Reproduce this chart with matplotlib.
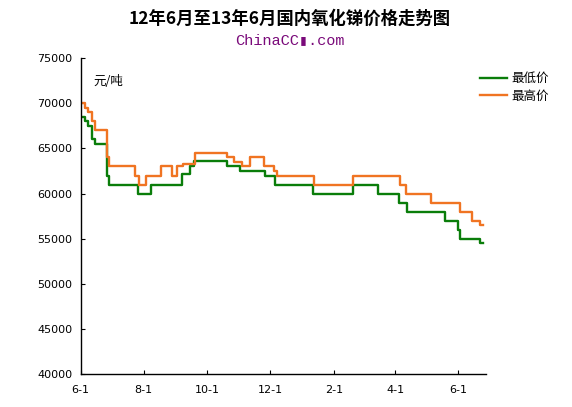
import matplotlib
matplotlib.use('Agg')
import matplotlib.pyplot as plt
import numpy as np

# 最低价 (step changes)
low_dates = ['2012-06-01', '2012-06-05', '2012-06-08', '2012-06-12', '2012-06-15',
             '2012-06-26', '2012-06-28', '2012-07-26', '2012-08-08', '2012-09-07',
             '2012-09-15', '2012-09-19', '2012-10-20', '2012-11-02', '2012-11-26',
             '2012-12-06', '2013-01-12', '2013-02-19', '2013-03-15', '2013-04-05',
             '2013-04-12', '2013-05-19', '2013-06-01', '2013-06-03', '2013-06-22',
             '2013-06-25']
low_vals = [68500, 68000, 67500, 66000, 65500,
            62000, 61000, 60000, 61000, 62200,
            63000, 63600, 63000, 62500, 62000,
            61000, 60000, 61000, 60000, 59000,
            58000, 57000, 56000, 55000, 54500,
            54500]

# 最高价
high_dates = ['2012-06-01', '2012-06-05', '2012-06-08', '2012-06-12', '2012-06-15',
              '2012-06-26', '2012-06-28', '2012-07-24', '2012-07-27', '2012-08-03',
              '2012-08-18', '2012-08-28', '2012-09-02', '2012-09-08', '2012-09-20',
              '2012-10-20', '2012-10-27', '2012-11-04', '2012-11-12', '2012-11-25',
              '2012-12-05', '2012-12-08', '2013-01-13', '2013-02-19', '2013-04-06',
              '2013-04-11', '2013-05-06', '2013-06-03', '2013-06-14', '2013-06-22',
              '2013-06-25']
high_vals = [70000, 69500, 69000, 68000, 67000,
             64000, 63000, 62000, 61000, 62000,
             63000, 62000, 63000, 63300, 64500,
             64000, 63500, 63000, 64000, 63000,
             62500, 62000, 61000, 62000, 61000,
             60000, 59000, 58000, 57000, 56500,
             56500]

tick_dates = ['2012-06-01', '2012-08-01', '2012-10-01', '2012-12-01',
              '2013-02-01', '2013-04-01', '2013-06-01']
tick_labels = ['6-1', '8-1', '10-1', '12-1', '2-1', '4-1', '6-1']
y_ticks = [40000, 45000, 50000, 55000, 60000, 65000, 70000, 75000]

cjk = ['Noto Sans CJK SC', 'DejaVu Sans']
plt.rcParams['font.family'] = cjk

fig = plt.figure(figsize=(5.72, 4.07), dpi=100)
ax = fig.add_axes([0.141, 0.081, 0.709, 0.776])

ld = np.array(low_dates, dtype='datetime64[D]')
hd = np.array(high_dates, dtype='datetime64[D]')
ax.plot(ld, low_vals, drawstyle='steps-post', color='#0a7d0a', lw=1.7, label='最低价')
ax.plot(hd, high_vals, drawstyle='steps-post', color='#f07422', lw=1.7, label='最高价')

ax.set_xlim(np.datetime64('2012-06-01'), np.datetime64('2013-06-28'))
ax.set_ylim(40000, 75000)
ax.set_yticks(y_ticks)
ax.set_yticklabels([str(v) for v in y_ticks], fontsize=8, family='DejaVu Sans')
ax.set_xticks(np.array(tick_dates, dtype='datetime64[D]'))
ax.set_xticklabels(tick_labels, fontsize=8, family='DejaVu Sans')
ax.tick_params(axis='both', direction='in', length=3, width=0.8, pad=6)
ax.tick_params(axis='x', pad=8)

for s in ['top', 'right']:
    ax.spines[s].set_visible(False)
for s in ['left', 'bottom']:
    ax.spines[s].set_linewidth(1.0)

fig.text(0.163, 0.80, '元/吨', fontsize=9, va='center')

fig.text(0.507, 0.955, '12年6月至13年6月国内氧化锑价格走势图', fontsize=12.5,
         fontweight='bold', ha='center', va='center')
fig.text(0.507, 0.902, 'ChinaCC▮.com', fontsize=11, color='#7a0a7a',
         ha='center', va='center', family=['Liberation Mono', 'DejaVu Sans Mono', 'DejaVu Sans'])

ax.legend(loc='upper left', bbox_to_anchor=(0.83, 0.835), bbox_transform=fig.transFigure,
          frameon=False, fontsize=9, handlelength=2.2, handletextpad=0.3,
          labelspacing=0.35, borderaxespad=0)

fig.savefig('out.png', dpi=100)
